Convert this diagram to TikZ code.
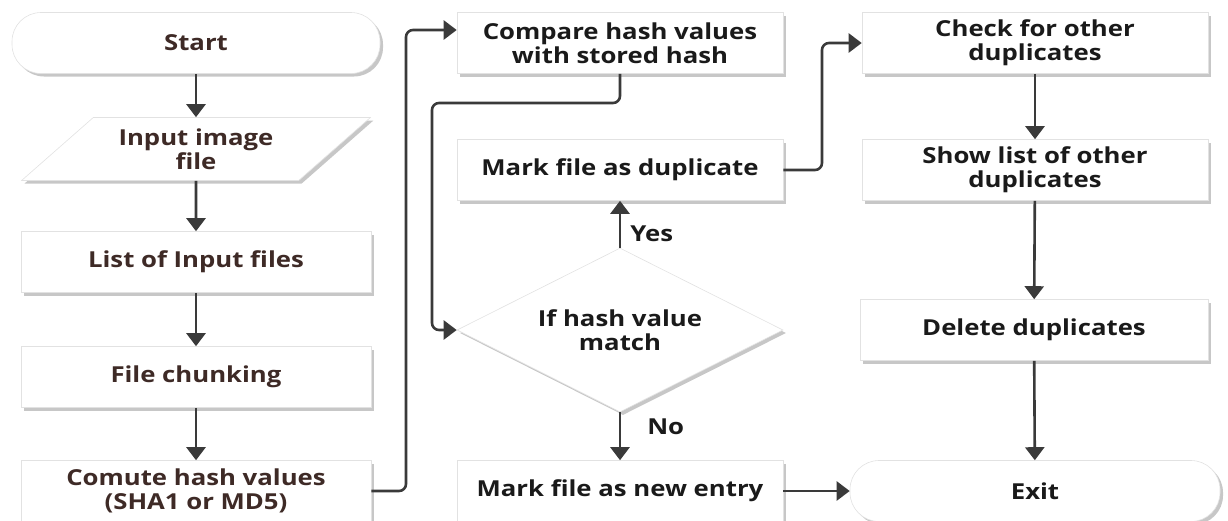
\documentclass[tikz,border=0pt]{standalone}
\usepackage{fontspec}
\setmainfont{Open Sans}[FakeStretch=1.17]
\usetikzlibrary{shapes.geometric,shadows,arrows.meta}
\definecolor{ink}{HTML}{1A1A1A}
\definecolor{brownink}{HTML}{3E2A26}
\definecolor{edge}{HTML}{E2E2E2}
\definecolor{wire}{HTML}{3A3A3A}
\tikzset{
  base/.style={draw=edge, line width=0.6pt, fill=white, font=\fontsize{22}{24}\selectfont\bfseries,
    align=center, text=ink, inner sep=2pt,
    drop shadow={shadow xshift=3pt, shadow yshift=-3pt, fill=black, opacity=0.22}},
  procbox/.style={base, rectangle, minimum height=61pt},
  termbox/.style={base, rectangle, rounded corners=29pt, minimum height=61pt},
  iobox/.style={base, trapezium, trapezium left angle=39, trapezium right angle=141,
    trapezium stretches=true, minimum width=350pt, minimum height=63pt},
  decbox/.style={base, diamond, shape aspect=2, minimum width=326pt, minimum height=164pt, inner sep=0pt},
  leftcol/.style={text=brownink},
  flow/.style={draw=wire, line width=2.6pt, rounded corners=7pt,
    -{Triangle[width=19pt,length=13pt]}},
  lbl/.style={font=\fontsize{22}{24}\selectfont\bfseries, text=ink, anchor=west, inner sep=0pt}
}
\begin{document}
\begin{tikzpicture}[x=1pt,y=-1pt]
\useasboundingbox (0,0) rectangle (1228,520);

% left column
\node[termbox, leftcol, minimum width=368pt] (start) at (196,43) {Start};
\node[iobox, leftcol] (input) at (196,149) {Input image\\file};
\node[procbox, leftcol, minimum width=350pt] (list) at (196,262) {List of Input files};
\node[procbox, leftcol, minimum width=350pt] (chunk) at (196,377) {File chunking};
\node[procbox, leftcol, minimum width=350pt] (comp) at (196,491) {Comute hash values\\(SHA1 or MD5)};

% middle column
\node[procbox, minimum width=326pt] (compare) at (620,43) {Compare hash values\\with stored hash};
\node[procbox, minimum width=326pt] (dup) at (620,170) {Mark file as duplicate};
\node[decbox] (dec) at (620,330) {If hash value\\match};
\node[procbox, minimum width=326pt] (newe) at (620,491) {Mark file as new entry};

% right column
\node[procbox, minimum width=346pt] (check) at (1035,43) {Check for other\\duplicates};
\node[procbox, minimum width=346pt] (show) at (1035,170) {Show list of other\\duplicates};
\node[procbox, minimum width=348pt] (del) at (1034,330) {Delete duplicates};
\node[termbox, minimum width=370pt] (exit) at (1035,491) {Exit};

% routing points
\coordinate (r1) at (406,30);
\coordinate (r2) at (432,103);
\coordinate (r3) at (822,43);

% connectors
\draw[flow] (start) -- (input);
\draw[flow] (input) -- (list);
\draw[flow] (list) -- (chunk);
\draw[flow] (chunk) -- (comp);
\draw[flow] (comp.east) -| (r1) -- (compare.west |- r1);
\draw[flow] (compare.south) |- (r2) |- (dec.west);
\draw[flow] (dec.north) -- (dup.south) node[lbl, pos=0.3, xshift=9pt] {Yes};
\draw[flow] (dec.south) -- (newe.north) node[lbl, pos=0.3, xshift=26pt] {No};
\draw[flow] (dup.east) -| (r3) -- (check.west);
\draw[flow] (check) -- (show);
\draw[flow] (show) -- (del);
\draw[flow] (del) -- (exit);
\draw[flow] (newe.east) -- (exit.west);
\end{tikzpicture}
\end{document}
